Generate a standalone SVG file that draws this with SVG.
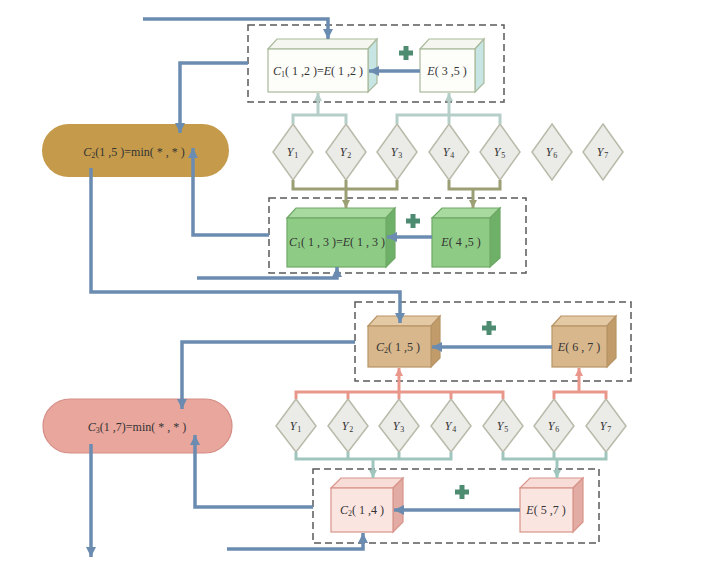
<svg xmlns="http://www.w3.org/2000/svg" width="727" height="570" viewBox="0 0 727 570">
<style>
text{font-family:"Liberation Serif","Times New Roman",serif;font-size:12px;fill:#333;}
.lbl{text-anchor:middle;letter-spacing:0.8px;}
.it{font-style:italic;}
.sub{font-size:8px;}
.dash{fill:none;stroke:#5a5a5a;stroke-width:1.5;stroke-dasharray:7 4;}
.blue{fill:none;stroke:#6b8cb0;stroke-width:3.5;}
.cy{fill:none;stroke:#b6cec8;stroke-width:3;}
.ol{fill:none;stroke:#9c9e74;stroke-width:3;}
.sa{fill:none;stroke:#e9978b;stroke-width:3;}
.cy2{fill:none;stroke:#9fc5bc;stroke-width:3;}
.dia{fill:#ebebe8;stroke:#b9baa9;stroke-width:1.5;}
.plus{fill:none;stroke:#4e8c72;stroke-width:5;}
.wf{fill:#fdfdfa;stroke:#aab99c;stroke-width:1.2;}
.wt{fill:#f4f6ef;stroke:#aab99c;stroke-width:1.2;}
.ws{fill:#c6e5e3;stroke:#aab99c;stroke-width:1.2;}
.gf{fill:#8ecb85;stroke:#6ea866;stroke-width:1.2;}
.gt{fill:#a8d99f;stroke:#6ea866;stroke-width:1.2;}
.gs{fill:#6fb068;stroke:#6ea866;stroke-width:1.2;}
.tf{fill:#d8b78c;stroke:#b89466;stroke-width:1.2;}
.tt{fill:#e4caa4;stroke:#b89466;stroke-width:1.2;}
.ts{fill:#c19c6a;stroke:#b89466;stroke-width:1.2;}
.pf{fill:#fbe5e1;stroke:#d8948a;stroke-width:1.2;}
.pt{fill:#f8dcd7;stroke:#d8948a;stroke-width:1.2;}
.ps{fill:#e2aba3;stroke:#d8948a;stroke-width:1.2;}
</style>
<defs>
<marker id="ab" markerUnits="userSpaceOnUse" markerWidth="11" markerHeight="11" refX="10" refY="5.5" orient="auto"><path d="M0,0.5 L10,5.5 L0,10.5 z" fill="#6b8cb0"/></marker>
<marker id="acy" markerUnits="userSpaceOnUse" markerWidth="9" markerHeight="9" refX="8" refY="4.5" orient="auto"><path d="M0,0.5 L8,4.5 L0,8.5 z" fill="#b6cec8"/></marker>
<marker id="aol" markerUnits="userSpaceOnUse" markerWidth="9" markerHeight="9" refX="8" refY="4.5" orient="auto"><path d="M0,0.5 L8,4.5 L0,8.5 z" fill="#9c9e74"/></marker>
<marker id="asa" markerUnits="userSpaceOnUse" markerWidth="9" markerHeight="9" refX="8" refY="4.5" orient="auto"><path d="M0,0.5 L8,4.5 L0,8.5 z" fill="#e9978b"/></marker>
<marker id="acy2" markerUnits="userSpaceOnUse" markerWidth="9" markerHeight="9" refX="8" refY="4.5" orient="auto"><path d="M0,0.5 L8,4.5 L0,8.5 z" fill="#9fc5bc"/></marker>
</defs>

<!-- dashed groups -->
<rect class="dash" x="248" y="25" width="256" height="77"/>
<rect class="dash" x="269" y="198" width="257" height="75"/>
<rect class="dash" x="355" y="302" width="276" height="79"/>
<rect class="dash" x="313" y="469" width="286" height="74"/>

<!-- top section nodes -->
<g id="pill1">
<rect x="42" y="124" width="187" height="53" rx="26.5" fill="#c59b4b"/>
<text x="134" y="156" text-anchor="middle"><tspan class="it">C</tspan><tspan class="sub" dy="2">2</tspan><tspan dy="-2">(1 ,5 )=min( * , * )</tspan></text>
</g>
<g id="c12">
<polygon class="wt" points="268,49 277,39 377,39 368,49"/>
<polygon class="ws" points="368,49 377,39 377,83 368,92"/>
<rect class="wf" x="268" y="49" width="100" height="43"/>
<text x="318" y="75" text-anchor="middle"><tspan class="it">C</tspan><tspan class="sub" dy="2">1</tspan><tspan dy="-2">( 1 ,2 )=</tspan><tspan class="it">E</tspan><tspan>( 1 ,2 )</tspan></text>
</g>
<g id="e35">
<polygon class="wt" points="420,49 429,39 484,39 475,49"/>
<polygon class="ws" points="475,49 484,39 484,83 475,92"/>
<rect class="wf" x="420" y="49" width="55" height="43"/>
<text x="447" y="75" text-anchor="middle"><tspan class="it">E</tspan><tspan>( 3 ,5 )</tspan></text>
</g>
<path class="plus" d="M399,53 H413 M406,46 V60"/>

<g id="c13">
<polygon class="gt" points="287,218 296,208 395,208 386,218"/>
<polygon class="gs" points="386,218 395,208 395,258 386,267"/>
<rect class="gf" x="287" y="218" width="99" height="49"/>
<text x="337" y="246" text-anchor="middle"><tspan class="it">C</tspan><tspan class="sub" dy="2">1</tspan><tspan dy="-2">( 1 , 3 )=</tspan><tspan class="it">E</tspan><tspan>( 1 , 3 )</tspan></text>
</g>
<g id="e45">
<polygon class="gt" points="432,218 442,208 500,208 490,218"/>
<polygon class="gs" points="490,218 500,208 500,258 490,267"/>
<rect class="gf" x="432" y="218" width="58" height="49"/>
<text x="461" y="246" text-anchor="middle"><tspan class="it">E</tspan><tspan>( 4 ,5 )</tspan></text>
</g>
<path class="plus" d="M406,221 H420 M413,214 V228"/>

<!-- top Y row -->
<g id="ytop">
<g id="yt1"><polygon class="dia" points="293,124 313,152 293,180 273,152"/><text x="293" y="156" class="lbl"><tspan class="it">Y</tspan><tspan class="sub" dy="2">1</tspan></text></g>
<g id="yt2"><polygon class="dia" points="346,124 366,152 346,180 326,152"/><text x="346" y="156" class="lbl"><tspan class="it">Y</tspan><tspan class="sub" dy="2">2</tspan></text></g>
<g id="yt3"><polygon class="dia" points="397,124 417,152 397,180 377,152"/><text x="397" y="156" class="lbl"><tspan class="it">Y</tspan><tspan class="sub" dy="2">3</tspan></text></g>
<g id="yt4"><polygon class="dia" points="449,124 469,152 449,180 429,152"/><text x="449" y="156" class="lbl"><tspan class="it">Y</tspan><tspan class="sub" dy="2">4</tspan></text></g>
<g id="yt5"><polygon class="dia" points="500,124 520,152 500,180 480,152"/><text x="500" y="156" class="lbl"><tspan class="it">Y</tspan><tspan class="sub" dy="2">5</tspan></text></g>
<g id="yt6"><polygon class="dia" points="552,124 572,152 552,180 532,152"/><text x="552" y="156" class="lbl"><tspan class="it">Y</tspan><tspan class="sub" dy="2">6</tspan></text></g>
<g id="yt7"><polygon class="dia" points="603,124 623,152 603,180 583,152"/><text x="603" y="156" class="lbl"><tspan class="it">Y</tspan><tspan class="sub" dy="2">7</tspan></text></g>
</g>

<!-- bottom section nodes -->
<g id="pill2">
<rect x="43" y="399" width="189" height="54" rx="27" fill="#e9a69d" stroke="#d48d85" stroke-width="1.2"/>
<text x="137" y="431" text-anchor="middle"><tspan class="it">C</tspan><tspan class="sub" dy="2">3</tspan><tspan dy="-2">(1 ,7)=min( * , * )</tspan></text>
</g>
<g id="c15">
<polygon class="tt" points="368,326 377,316 440,316 431,326"/>
<polygon class="ts" points="431,326 440,316 440,358 431,367"/>
<rect class="tf" x="368" y="326" width="63" height="41"/>
<text x="398" y="351" text-anchor="middle"><tspan class="it">C</tspan><tspan class="sub" dy="2">2</tspan><tspan dy="-2">( 1 ,5 )</tspan></text>
</g>
<g id="e67">
<polygon class="tt" points="552,326 561,316 616,316 607,326"/>
<polygon class="ts" points="607,326 616,316 616,358 607,367"/>
<rect class="tf" x="552" y="326" width="55" height="41"/>
<text x="579" y="351" text-anchor="middle"><tspan class="it">E</tspan><tspan>( 6 , 7 )</tspan></text>
</g>
<path class="plus" d="M482,328 H496 M489,321 V335"/>

<g id="c14">
<polygon class="pt" points="331,488 341,478 403,478 393,488"/>
<polygon class="ps" points="393,488 403,478 403,522 393,532"/>
<rect class="pf" x="331" y="488" width="62" height="44"/>
<text x="362" y="514" text-anchor="middle"><tspan class="it">C</tspan><tspan class="sub" dy="2">2</tspan><tspan dy="-2">( 1 ,4 )</tspan></text>
</g>
<g id="e57">
<polygon class="pt" points="520,488 530,478 583,478 573,488"/>
<polygon class="ps" points="573,488 583,478 583,522 573,532"/>
<rect class="pf" x="520" y="488" width="53" height="44"/>
<text x="546" y="514" text-anchor="middle"><tspan class="it">E</tspan><tspan>( 5 ,7 )</tspan></text>
</g>
<path class="plus" d="M455,492 H469 M462,485 V499"/>

<!-- bottom Y row -->
<g id="ybot">
<g id="yb1"><polygon class="dia" points="296,399 316,426 296,452 276,426"/><text x="296" y="430" class="lbl"><tspan class="it">Y</tspan><tspan class="sub" dy="2">1</tspan></text></g>
<g id="yb2"><polygon class="dia" points="348,399 368,426 348,452 328,426"/><text x="348" y="430" class="lbl"><tspan class="it">Y</tspan><tspan class="sub" dy="2">2</tspan></text></g>
<g id="yb3"><polygon class="dia" points="399,399 419,426 399,452 379,426"/><text x="399" y="430" class="lbl"><tspan class="it">Y</tspan><tspan class="sub" dy="2">3</tspan></text></g>
<g id="yb4"><polygon class="dia" points="451,399 471,426 451,452 431,426"/><text x="451" y="430" class="lbl"><tspan class="it">Y</tspan><tspan class="sub" dy="2">4</tspan></text></g>
<g id="yb5"><polygon class="dia" points="503,399 523,426 503,452 483,426"/><text x="503" y="430" class="lbl"><tspan class="it">Y</tspan><tspan class="sub" dy="2">5</tspan></text></g>
<g id="yb6"><polygon class="dia" points="554,399 574,426 554,452 534,426"/><text x="554" y="430" class="lbl"><tspan class="it">Y</tspan><tspan class="sub" dy="2">6</tspan></text></g>
<g id="yb7"><polygon class="dia" points="606,399 626,426 606,452 586,426"/><text x="606" y="430" class="lbl"><tspan class="it">Y</tspan><tspan class="sub" dy="2">7</tspan></text></g>
</g>

<!-- connectors -->
<g id="connectors">
<polyline class="blue" points="143,19 328,19 328,39" marker-end="url(#ab)"/>
<polyline class="blue" points="248,63 180,63 180,133" marker-end="url(#ab)"/>
<line class="blue" x1="420" y1="71" x2="369" y2="71" marker-end="url(#ab)"/>
<polyline class="blue" points="269,235 193,235 193,148" marker-end="url(#ab)"/>
<line class="blue" x1="432" y1="237" x2="387" y2="237" marker-end="url(#ab)"/>
<polyline class="blue" points="197,278 337,278 337,267" marker-end="url(#ab)"/>
<polyline class="blue" points="91,168 91,292 400,292 400,323" marker-end="url(#ab)"/>
<polyline class="blue" points="355,342 182,342 182,409" marker-end="url(#ab)"/>
<line class="blue" x1="552" y1="347" x2="432" y2="347" marker-end="url(#ab)"/>
<polyline class="blue" points="313,507 195,507 195,435" marker-end="url(#ab)"/>
<line class="blue" x1="520" y1="510" x2="394" y2="510" marker-end="url(#ab)"/>
<polyline class="blue" points="227,549 363,549 363,533" marker-end="url(#ab)"/>
<line class="blue" x1="91" y1="444" x2="91" y2="557" marker-end="url(#ab)"/>

<polyline class="cy" points="293,124 293,115 346,115 346,124"/>
<line class="cy" x1="318" y1="115" x2="318" y2="93" marker-end="url(#acy)"/>
<polyline class="cy" points="397,124 397,115 500,115 500,124"/>
<line class="cy" x1="449" y1="124" x2="449" y2="93" marker-end="url(#acy)"/>

<polyline class="ol" points="293,180 293,189 397,189 397,180"/>
<line class="ol" x1="346" y1="180" x2="346" y2="208" marker-end="url(#aol)"/>
<polyline class="ol" points="449,180 449,189 500,189 500,180"/>
<line class="ol" x1="473" y1="189" x2="473" y2="208" marker-end="url(#aol)"/>

<polyline class="sa" points="296,399 296,392 503,392 503,399"/>
<line class="sa" x1="348" y1="392" x2="348" y2="399"/>
<line class="sa" x1="451" y1="392" x2="451" y2="399"/>
<line class="sa" x1="399" y1="399" x2="399" y2="368" marker-end="url(#asa)"/>
<polyline class="sa" points="554,399 554,392 606,392 606,399"/>
<line class="sa" x1="579" y1="392" x2="579" y2="368" marker-end="url(#asa)"/>

<polyline class="cy2" points="296,452 296,459 451,459 451,452"/>
<line class="cy2" x1="348" y1="452" x2="348" y2="459"/>
<line class="cy2" x1="399" y1="452" x2="399" y2="459"/>
<line class="cy2" x1="373" y1="459" x2="373" y2="478" marker-end="url(#acy2)"/>
<polyline class="cy2" points="503,452 503,459 606,459 606,452"/>
<line class="cy2" x1="554" y1="452" x2="554" y2="459"/>
<line class="cy2" x1="557" y1="459" x2="557" y2="478" marker-end="url(#acy2)"/>
</g>
</svg>
